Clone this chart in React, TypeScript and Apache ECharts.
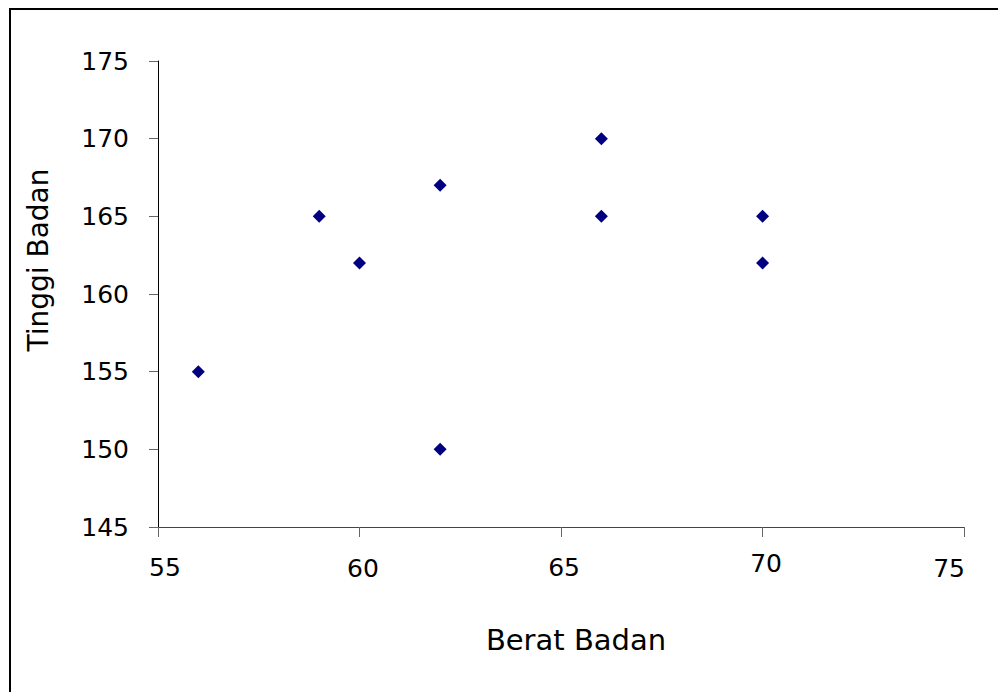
import React, { useEffect, useRef } from "react";
import * as echarts from "echarts";

const beratBadan = [56, 59, 60, 62, 62, 66, 66, 70, 70];
const tinggiBadan = [155, 165, 162, 167, 150, 170, 165, 165, 162];
const xTicks = [55, 60, 65, 70, 75];
const yTicks = [145, 150, 155, 160, 165, 170, 175];
const xTitle = "Berat Badan";
const yTitle = "Tinggi Badan";

// per-label nudges (padding) to mimic the reference's label placement
const xLabelPad: Record<number, number[]> = {
  55: [7, 0, 0, 14],
  60: [10, 0, 0, 7],
  65: [7, 0, 0, 6],
  70: [0, 0, 0, 7],
  75: [10, 30, 0, 0],
};

const FONT = "DejaVu Sans";

export default function App() {
  const ref = useRef<HTMLDivElement>(null);
  useEffect(() => {
    if (!ref.current) return;
    document.documentElement.style.overflow = "hidden";
    const chart = echarts.init(ref.current, null, { renderer: "svg" });
    const rich: Record<string, any> = {};
    xTicks.forEach((t) => {
      rich["l" + t] = {
        fontFamily: FONT,
        fontSize: 25,
        lineHeight: 25,
        color: "#000",
        padding: xLabelPad[t],
      };
    });
    chart.setOption({
      animation: false,
      backgroundColor: "#fff",
      grid: { left: 150, top: 53, right: 30, bottom: 165, containLabel: false },
      xAxis: {
        type: "value",
        min: xTicks[0],
        max: xTicks[xTicks.length - 1],
        interval: 5,
        splitLine: { show: false },
        axisLine: { show: true, onZero: false, lineStyle: { color: "#444", width: 1 } },
        axisTick: { show: true, length: 10, lineStyle: { color: "#666" } },
        axisLabel: {
          margin: 24,
          formatter: (v: number) => `{l${v}|${v}}`,
          rich,
        },
      },
      yAxis: {
        type: "value",
        min: yTicks[0],
        max: yTicks[yTicks.length - 1],
        interval: 5,
        splitLine: { show: false },
        axisLine: { show: true, onZero: false, lineStyle: { color: "#000", width: 1 } },
        axisTick: { show: true, length: 9, lineStyle: { color: "#666" } },
        axisLabel: {
          margin: 29,
          fontFamily: FONT,
          fontSize: 25,
          color: "#000",
        },
      },
      series: [
        {
          type: "scatter",
          symbol: "diamond",
          symbolSize: 13,
          itemStyle: { color: "#000080", opacity: 1 },
          data: beratBadan.map((x, i) => [x, tinggiBadan[i]]),
        },
      ],
      graphic: [
        {
          type: "text",
          x: 568,
          y: 632,
          style: {
            text: xTitle,
            fontFamily: FONT,
            fontSize: 29,
            fill: "#000",
            align: "center",
            verticalAlign: "middle",
          },
        },
        {
          type: "text",
          x: 30,
          y: 252,
          rotation: Math.PI / 2,
          style: {
            text: yTitle,
            fontFamily: FONT,
            fontSize: 28,
            fill: "#000",
            align: "center",
            verticalAlign: "middle",
          },
        },
      ],
    });
    return () => chart.dispose();
  }, []);
  return (
    <>
      <div
        ref={ref}
        style={{ position: "absolute", left: 8, top: 8, width: 990, height: 684 }}
      />
      <div
        style={{
          position: "absolute",
          left: 9,
          top: 8,
          width: 989,
          height: 684,
          boxSizing: "border-box",
          borderTop: "2px solid #000",
          borderLeft: "2px solid #000",
          pointerEvents: "none",
        }}
      />
    </>
  );
}
